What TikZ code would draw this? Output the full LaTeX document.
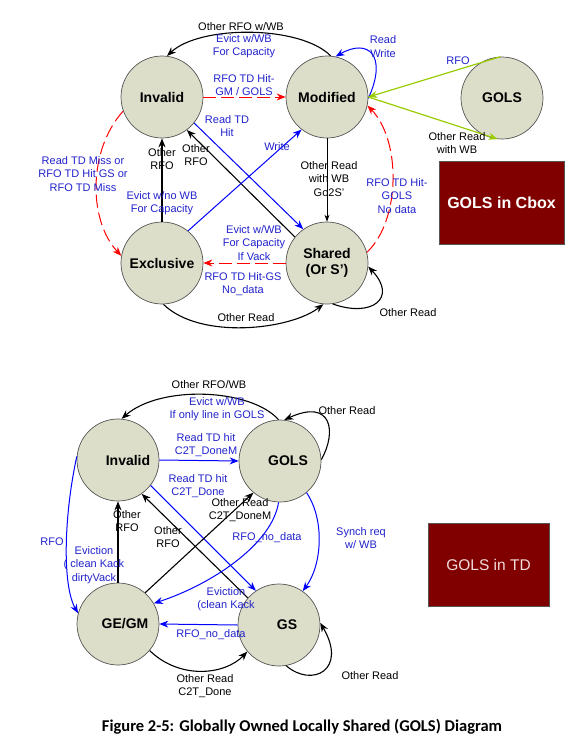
\documentclass[tikz,border=0pt]{standalone}
\usepackage{fontspec}
\setmainfont{Liberation Sans}
\newfontfamily\capfont{Carlito}
\usetikzlibrary{arrows.meta}
\definecolor{circfill}{HTML}{DCDEC9}
\definecolor{circline}{HTML}{555555}
\definecolor{lblue}{HTML}{2222CC}
\definecolor{lnblue}{HTML}{0000FF}
\definecolor{lnred}{HTML}{FF0000}
\definecolor{lngreen}{HTML}{99CC00}
\definecolor{maroon}{HTML}{800000}
\definecolor{tdtext}{HTML}{F2DCDC}
\tikzset{
  stnode/.style={circle,draw=circline,line width=0.7pt,fill=circfill,minimum size=82pt,inner sep=0pt,align=center,font=\bfseries\fontsize{14}{16}\selectfont},
  lb/.style={align=center,inner sep=0pt,font=\fontsize{11}{13.5}\selectfont},
  blb/.style={lb,text=lblue},
  tip/.style={-{Stealth[length=9pt,width=7pt]}},
  smalltip/.style={-{Stealth[length=7pt,width=5pt]}},
  blk/.style={tip,draw=black,line width=1.1pt},
  thinblk/.style={smalltip,draw=black,line width=0.7pt},
  blu/.style={tip,draw=lnblue,line width=1pt},
  rdd/.style={tip,draw=lnred,line width=1pt,dash pattern=on 13pt off 5pt},
  grn/.style={tip,draw=lngreen,line width=1.2pt},
  boxnode/.style={rectangle,draw=circline,line width=0.6pt,fill=maroon,inner sep=0pt}
}
\begin{document}
\begin{tikzpicture}[x=1pt,y=-1pt]
\useasboundingbox (0,0) rectangle (576,747);
% ---------------- top diagram ----------------
\node[stnode] (inv1) at (162,97) {Invalid};
\node[stnode] (mod) at (327,97) {Modified};
\node[stnode] (gols1) at (502,98) {GOLS};
\node[stnode] (exc) at (162,263) {Exclusive};
\node[stnode] (sh) at (327,263) {Shared\\(Or S')};
\node[boxnode,minimum width=125pt,minimum height=83pt,text=white,font=\bfseries\fontsize{16}{18}\selectfont] (cbox) at (501.5,202.5) {GOLS in Cbox};

\draw[blk] (mod.85) .. controls (300,25) and (200,25) .. (inv1.83);
\draw[blu] (mod.-2) .. controls (388,55) and (368,38) .. (mod.78);
\draw[rdd] (inv1.east) -- (mod.west);
\draw[rdd] (inv1.200) .. controls (88,150) and (88,220) .. (exc.170);
\draw[rdd] (sh.15) .. controls (401,220) and (401,140) .. (mod.-12);
\draw[thinblk] (mod.south) -- (sh.north);
\draw[rdd] (sh.west) -- (exc.east);
\draw[blk] (exc.north) -- (inv1.south);
\draw[blk] (sh.141) -- (inv1.-53);
\draw[blu] (inv1.-39) -- (sh.125);
\draw[blu] (exc.51) -- (mod.-128);
\draw[blk] (exc.-88) .. controls (200,340) and (290,330) .. (sh.-95);
\draw[blk] (sh.-82) .. controls (372,318) and (398,298) .. (sh.-5);
\draw[grn] (gols1.92) -- (mod.0);
\draw[grn] (mod.0) -- (gols1.-96);

\node[lb] (t1) at (241,27) {Other RFO w/WB};
\node[blb] (t2) at (244,46) {Evict w/WB\\For Capacity};
\node[blb] (t3) at (383,46.5) {Read\\Write};
\node[blb] (t4) at (244,85) {RFO TD Hit-\\GM / GOLS};
\node[blb] (t5) at (227,126) {Read TD\\Hit};
\node[lb] (t6) at (196,155) {Other\\RFO};
\node[lb] (t7) at (162,159) {Other\\RFO};
\node[blb] (t8) at (83,174) {Read TD Miss or\\RFO TD Hit GS or\\RFO TD Miss};
\node[blb] (t9) at (162,203) {Evict w/no WB\\For Capacity};
\node[blb] (t10) at (277,147) {Write};
\node[lb] (t11) at (329,179) {Other Read\\with WB\\Go2S'};
\node[blb] (t12) at (397,196) {RFO TD Hit-\\GOLS\\No data};
\node[blb] (t13) at (254,243) {Evict w/WB\\For Capacity\\If Vack};
\node[blb] (t14) at (243,284) {RFO TD Hit-GS\\No\_data};
\node[lb] (t15) at (246,318) {Other Read};
\node[lb] (t16) at (408,313) {Other Read};
\node[blb] (t17) at (458,61) {RFO};
\node[lb] (t18) at (457,143) {Other Read\\with WB};

% ---------------- bottom diagram ----------------
\node[stnode,label={[font=\bfseries\fontsize{14}{16}\selectfont,xshift=10pt]center:Invalid}] (inv2) at (118,460) {};
\node[stnode,label={[font=\bfseries\fontsize{14}{16}\selectfont,xshift=8pt]center:GOLS}] (gols2) at (280,461) {};
\node[stnode,label={[font=\bfseries\fontsize{14}{16}\selectfont,xshift=7pt]center:GE/GM}] (gm) at (118,624) {};
\node[stnode,label={[font=\bfseries\fontsize{14}{16}\selectfont,xshift=8pt]center:GS}] (gs) at (279,625) {};
\node[boxnode,minimum width=121pt,minimum height=83pt,text=tdtext,font=\fontsize{15.5}{18}\selectfont] (tdbox) at (488.5,564.5) {GOLS in TD};

\draw[blk] (gols2.92) .. controls (250,388) and (160,385) .. (inv2.85);
\draw[blk] (gols2.2) .. controls (337,432) and (332,398) .. (gols2.84);
\draw[blu] (inv2.east) -- (gols2.west);
\draw[blu] (inv2.-38) -- (gs.124);
\draw[blk] (gm.49) -- (gols2.-130);
\draw[blk] (gs.139) -- (inv2.-55);
\draw[blk] (gm.north) -- (inv2.south);
\draw[blu] (gols2.-92) .. controls (272,545) and (210,585) .. (gm.30);
\draw[blu] (gols2.-50) .. controls (325,520) and (322,565) .. (gs.55);
\draw[blu] (inv2.175) .. controls (64,515) and (62,585) .. (gm.165);
\draw[blu] (gs.west) -- (gm.east);
\draw[blk] (gm.-40) .. controls (180,680) and (225,675) .. (gs.-140);
\draw[blk] (gs.-80) .. controls (312,688) and (348,670) .. (gs.3);

\node[lb] (b1) at (209,385) {Other RFO/WB};
\node[blb] (b2) at (217,409) {Evict w/WB\\If only line in GOLS};
\node[lb] (b3) at (347,411) {Other Read};
\node[blb] (b4) at (206,445) {Read TD hit\\C2T\_DoneM};
\node[blb] (b5) at (198,486) {Read TD hit\\C2T\_Done};
\node[lb] (b6) at (240,510) {Other Read\\C2T\_DoneM};
\node[lb] (b7) at (168,537) {Other\\RFO};
\node[lb] (b8) at (127,521) {Other\\RFO};
\node[blb] (b9) at (94,565) {Eviction\\( clean Kack\\dirtyVack};
\node[blb] (b10) at (267,538) {RFO\_no\_data};
\node[blb] (b11) at (361,538) {Synch req\\w/ WB};
\node[blb] (b12) at (52,542) {RFO};
\node[blb] (b13) at (226,599) {Eviction\\(clean Kack};
\node[blb] (b14) at (211,635) {RFO\_no\_data};
\node[lb] (b15) at (205,686) {Other Read\\C2T\_Done};
\node[lb] (b16) at (370,676) {Other Read};

\node[font=\capfont\bfseries\fontsize{16.5}{19}\selectfont,inner sep=0pt] (cap) at (302,727) {Figure 2-5: Globally Owned Locally Shared (GOLS) Diagram};
\end{tikzpicture}
\end{document}
